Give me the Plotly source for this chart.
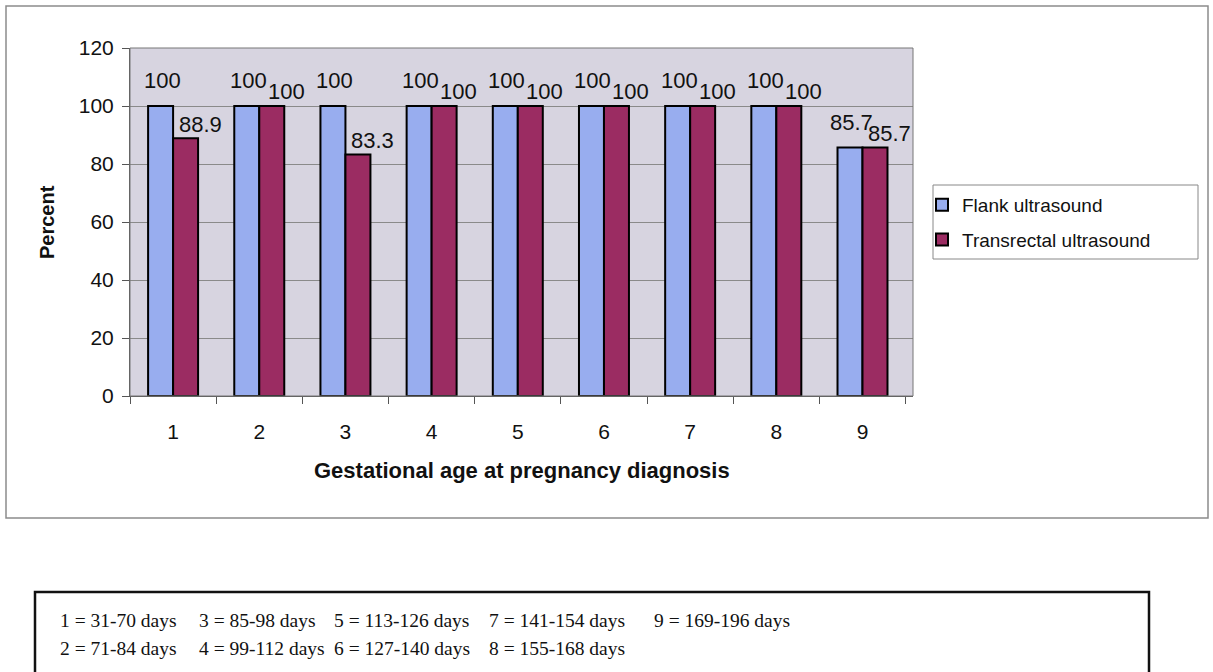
import plotly.graph_objects as go

categories = ["1", "2", "3", "4", "5", "6", "7", "8", "9"]
flank = [100, 100, 100, 100, 100, 100, 100, 100, 85.7]
transrectal = [88.9, 100, 83.3, 100, 100, 100, 100, 100, 85.7]
flank_labels = ["100", "100", "100", "100", "100", "100", "100", "100", "85.7"]
trans_labels = ["88.9", "100", "83.3", "100", "100", "100", "100", "100", "85.7"]
y_ticks = [0, 20, 40, 60, 80, 100, 120]
key_texts = ["1 = 31-70 days", "2 = 71-84 days", "3 = 85-98 days", "4 = 99-112 days",
             "5 = 113-126 days", "6 = 127-140 days", "7 = 141-154 days", "8 = 155-168 days",
             "9 = 169-196 days"]

W, H = 1213, 672
def px(x):
    return x / W
def py(y):
    return 1 - y / H

BLUE = "#98ADEF"
RED = "#9B2C62"
SANS = "Liberation Sans, Arial, sans-serif"
SERIF = "Liberation Serif, Times New Roman, serif"

fig = go.Figure()
fig.add_trace(go.Bar(x=categories, y=flank, name="Flank ultrasound",
                     marker=dict(color=BLUE, line=dict(color="#000000", width=2)),
                     legendgroup="a"))
fig.add_trace(go.Bar(x=categories, y=transrectal, name="Transrectal ultrasound",
                     marker=dict(color=RED, line=dict(color="#000000", width=2)),
                     legendgroup="b"))

annotations = []
for i, (v, t) in enumerate(zip(flank, flank_labels)):
    annotations.append(dict(x=i, y=v, xref="x", yref="y", text=t, showarrow=False,
                            xanchor="center", yanchor="middle",
                            xshift=-11, yshift=25, font=dict(family=SANS, size=22, color="#111")))
for i, (v, t) in enumerate(zip(transrectal, trans_labels)):
    annotations.append(dict(x=i, y=v, xref="x", yref="y", text=t, showarrow=False,
                            xanchor="center", yanchor="middle",
                            xshift=27, yshift=14, font=dict(family=SANS, size=22, color="#111")))

# axis titles
annotations.append(dict(x=px(47), y=py(222), xref="paper", yref="paper", text="<b>Percent</b>",
                        textangle=-90, showarrow=False, xanchor="center", yanchor="middle",
                        font=dict(family=SANS, size=20, color="#111")))
annotations.append(dict(x=px(522), y=py(471), xref="paper", yref="paper",
                        text="<b>Gestational age at pregnancy diagnosis</b>",
                        showarrow=False, xanchor="center", yanchor="middle",
                        font=dict(family=SANS, size=22, color="#111")))

# key box texts
col_x = [58, 197, 332, 487, 652]
row_y = [620, 648]
for k, t in enumerate(key_texts):
    c, r = k // 2, k % 2
    annotations.append(dict(x=px(col_x[c]), y=py(row_y[r]), xref="paper", yref="paper", text=t,
                            showarrow=False, xanchor="left", yanchor="middle",
                            font=dict(family=SERIF, size=19.5, color="#111")))

shapes = [
    dict(type="rect", xref="paper", yref="paper", x0=px(6), x1=px(1208), y0=py(518), y1=py(6),
         line=dict(color="#8c8c8c", width=1.5), layer="below"),
    dict(type="rect", xref="paper", yref="paper", x0=px(933), x1=px(1198), y0=py(259), y1=py(185),
         line=dict(color="#888888", width=1), fillcolor="white", layer="below"),
    dict(type="rect", xref="paper", yref="paper", x0=px(35), x1=px(1149), y0=py(690), y1=py(592),
         line=dict(color="#111111", width=2.5)),
]

fig.update_layout(
    width=W, height=H,
    autosize=False,
    margin=dict(l=0, r=0, t=0, b=0, pad=0, autoexpand=False),
    paper_bgcolor="white",
    plot_bgcolor="#D7D4E0",
    barmode="group",
    bargap=0.42,
    bargroupgap=0,
    showlegend=True,
    legend=dict(x=px(922), y=py(186), xanchor="left", yanchor="top",
                bgcolor="rgba(0,0,0,0)", borderwidth=0,
                font=dict(family=SANS, size=19, color="#111"),
                tracegroupgap=7, traceorder="grouped"),
    xaxis=dict(domain=[px(130), px(913)], type="category", tickson="boundaries",
               ticks="outside", ticklen=7, tickcolor="#555", showline=True, linecolor="#555",
               linewidth=1, tickfont=dict(family=SANS, size=21, color="#111"),
               ticklabelstandoff=17, showgrid=False, automargin=False),
    yaxis=dict(domain=[py(396), py(48)], range=[0, 120], tickvals=y_ticks,
               ticks="outside", ticklen=7, tickcolor="#555", showline=True, linecolor="#555",
               linewidth=1, gridcolor="#8a8a8a", gridwidth=1,
               tickfont=dict(family=SANS, size=21, color="#111"), ticklabelstandoff=4,
               zeroline=False, automargin=False),
    annotations=annotations,
    shapes=shapes,
)
fig.add_shape(type="rect", xref="x domain", yref="y domain", x0=0, x1=1, y0=0, y1=1,
              line=dict(color="#777", width=1))

fig.write_html("out.html", config={"displayModeBar": False},
               post_script="document.body.style.margin='0px';document.body.style.padding='0px';"
                           "document.body.style.overflow='hidden';")
